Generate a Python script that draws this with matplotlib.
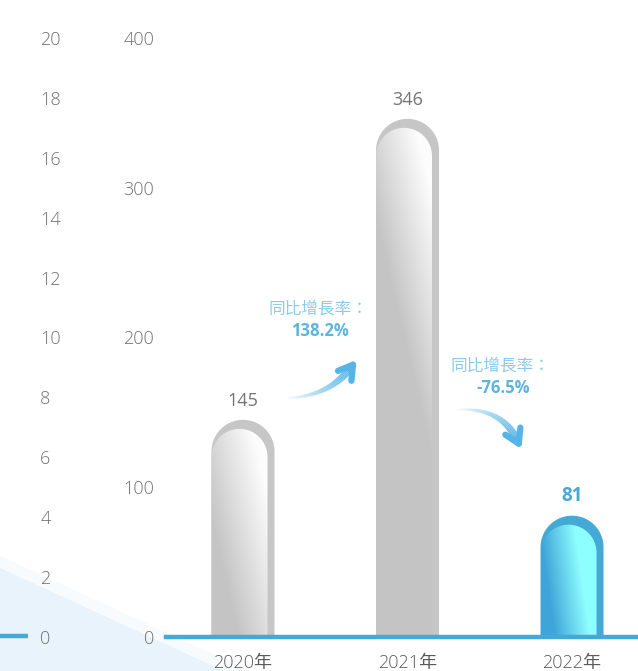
import numpy as np
import matplotlib
matplotlib.use("Agg")
import matplotlib.pyplot as plt
from matplotlib.path import Path
from matplotlib.patches import PathPatch, Polygon
from matplotlib.collections import LineCollection
from matplotlib.lines import Line2D

plt.rcParams['font.family'] = ['Open Sans', 'Noto Sans CJK TC', 'DejaVu Sans']
plt.rcParams['font.weight'] = 'light'

# data
years = ['2020年', '2021年', '2022年']
values = [145, 346, 81]
growth_labels = ['138.2%', '-76.5%']
left_ticks = list(range(0, 21, 2))
right_ticks = [0, 100, 200, 300, 400]

W, H = 638, 671
fig = plt.figure(figsize=(W / 100, H / 100), dpi=100)

def fx(px):
    return px / W

def fy(py):
    return 1 - py / H

# light background wedge bottom-left
fig.patches.append(Polygon([(fx(0), fy(556)), (fx(0), fy(671)), (fx(250), fy(671))],
                           closed=True, transform=fig.transFigure,
                           facecolor='#f7fbfe', edgecolor='none', zorder=-5))
fig.patches.append(Polygon([(fx(0), fy(568)), (fx(0), fy(671)), (fx(224), fy(671))],
                           closed=True, transform=fig.transFigure,
                           facecolor='#e9f3fb', edgecolor='none', zorder=-4))
fig.lines.append(Line2D([fx(0), fx(28)], [fy(636), fy(636)], transform=fig.transFigure,
                        color='#45a9d6', lw=3.2, solid_capstyle='butt', zorder=-3))

bottom = fy(637)
height = fy(38) - bottom
ax = fig.add_axes([fx(166), bottom, 1 - fx(166), height])
ax.set_facecolor('none')
ax.set_xlim(-0.468, 2.401)
ax.set_ylim(0, 400)
for s in ax.spines.values():
    s.set_visible(False)
ax.set_xticks(range(len(years)))
ax.set_xticklabels(years, fontsize=13, color='#5a5a5a')
ax.set_yticks(right_ticks)
ax.set_yticklabels([str(v) for v in right_ticks], fontsize=13, color='#707070')
ax.tick_params(axis='both', length=0)
ax.tick_params(axis='y', pad=8.5)
ax.tick_params(axis='x', pad=12)
ax.axhline(0, color='#45a9d6', lw=3.2, zorder=5, clip_on=False)

# left scale
ax2 = fig.add_axes([0, bottom, fx(36), height])
ax2.set_facecolor('none')
ax2.set_ylim(0, 20)
for s in ax2.spines.values():
    s.set_visible(False)
ax2.set_xticks([])
ax2.yaxis.tick_right()
ax2.set_yticks(left_ticks)
ax2.set_yticklabels([str(v) for v in left_ticks], fontsize=13, color='#707070')
ax2.tick_params(axis='y', length=0, pad=3)

fig.canvas.draw()
p0 = ax.transData.transform((0, 0))
p1 = ax.transData.transform((1, 1))
ppx = p1[0] - p0[0]   # pixels per x unit
ppy = p1[1] - p0[1]   # pixels per y unit


def capsule(x0, x1, top):
    rx = (x1 - x0) / 2
    ry = rx * ppx / ppy
    cx = (x0 + x1) / 2
    th = np.linspace(0, np.pi, 60)
    verts = [(x1, 0), (x1, top - ry)]
    verts += list(zip(cx + rx * np.cos(th), top - ry + ry * np.sin(th)))
    verts += [(x0, 0), (x1, 0)]
    codes = [Path.MOVETO] + [Path.LINETO] * (len(verts) - 2) + [Path.CLOSEPOLY]
    return Path(verts, codes)


outer_w = 63 / ppx
inner_w = 56 / ppx
gray_lo = np.array([0.77, 0.77, 0.77])
gray_hi = np.array([0.99, 0.99, 0.99])
blue_lo = np.array([0.25, 0.65, 0.85])
blue_hi = np.array([0.56, 1.0, 1.0])

for i, v in enumerate(values):
    hl = i == 2
    x0 = i - outer_w / 2
    outer = PathPatch(capsule(x0, x0 + outer_w, v),
                      facecolor='#45a9d6' if hl else '#c6c6c6', edgecolor='none', zorder=2)
    ax.add_patch(outer)
    itop = v - 9 / ppy
    inner_path = capsule(x0, x0 + inner_w, itop)
    inner = PathPatch(inner_path, facecolor='none', edgecolor='none', zorder=3)
    ax.add_patch(inner)
    xs = np.linspace(0, 1, 80)
    ys = np.linspace(0, 1, 200)
    X, Y = np.meshgrid(xs, ys)
    depth = (1 - Y) * itop * ppy  # px from top
    if hl:
        t = np.clip(1.6 * X - 0.004 * depth + 0.05, 0, 1)
        lo, hi = blue_lo, blue_hi
    else:
        t = np.clip(0.9 * X + 0.35 - depth / 260, 0, 1)
        lo, hi = gray_lo, gray_hi
    img = lo[None, None, :] + t[..., None] * (hi - lo)[None, None, :]
    im = ax.imshow(img, origin='lower', extent=(x0, x0 + inner_w, 0, itop),
                   aspect='auto', interpolation='bilinear', zorder=3)
    im.set_clip_path(inner)
    ax.annotate(str(v), (i, v), xytext=(0, 7), textcoords='offset points',
                ha='center', va='bottom', fontsize=13.5 if hl else 13,
                color='#45a9d6' if hl else '#747474',
                fontweight='bold' if hl else 'normal', zorder=6)
ax.set_xlim(-0.468, 2.401)
ax.set_ylim(0, 400)

# growth annotations
def to_data(px, py):
    return ((px - 243) / ppx, (637 - py) / ppy)

notes = [((318, 310), (320, 331), [(285, 398), (330, 397), (352, 366)]),
         ((500, 367), (503, 388), [(455, 410), (502, 406), (518, 442)])]
for (tl, vl, pts), lab in zip(notes, growth_labels):
    ax.text(*to_data(*tl), '同比增長率：', ha='center', va='center', fontsize=12,
            color='#8ccbea')
    ax.text(*to_data(*vl), lab, ha='center', va='center', fontsize=12,
            color='#5cb4e0', fontweight='bold')
    P = np.array([to_data(*p) for p in pts])
    s = np.linspace(0, 1, 50)[:, None]
    curve = (1 - s) ** 2 * P[0] + 2 * (1 - s) * s * P[1] + s ** 2 * P[2]
    segs = np.stack([curve[:-1], curve[1:]], axis=1)
    n = len(segs)
    cols = [(0.33, 0.71, 0.9, a) for a in np.linspace(0.0, 1, n) ** 0.8]
    lc = LineCollection(segs, colors=cols, linewidths=np.linspace(1, 6, n),
                        capstyle='butt', zorder=4)
    ax.add_collection(lc)
    ax.annotate('', xy=curve[-1] + (curve[-1] - curve[-3]) * 2.5, xytext=curve[-3],
                arrowprops=dict(arrowstyle='->,head_length=1.0,head_width=0.6',
                                color='#55b5e6', lw=4.5, shrinkA=0, shrinkB=0),
                zorder=4)

fig.savefig('out.png', dpi=100)
